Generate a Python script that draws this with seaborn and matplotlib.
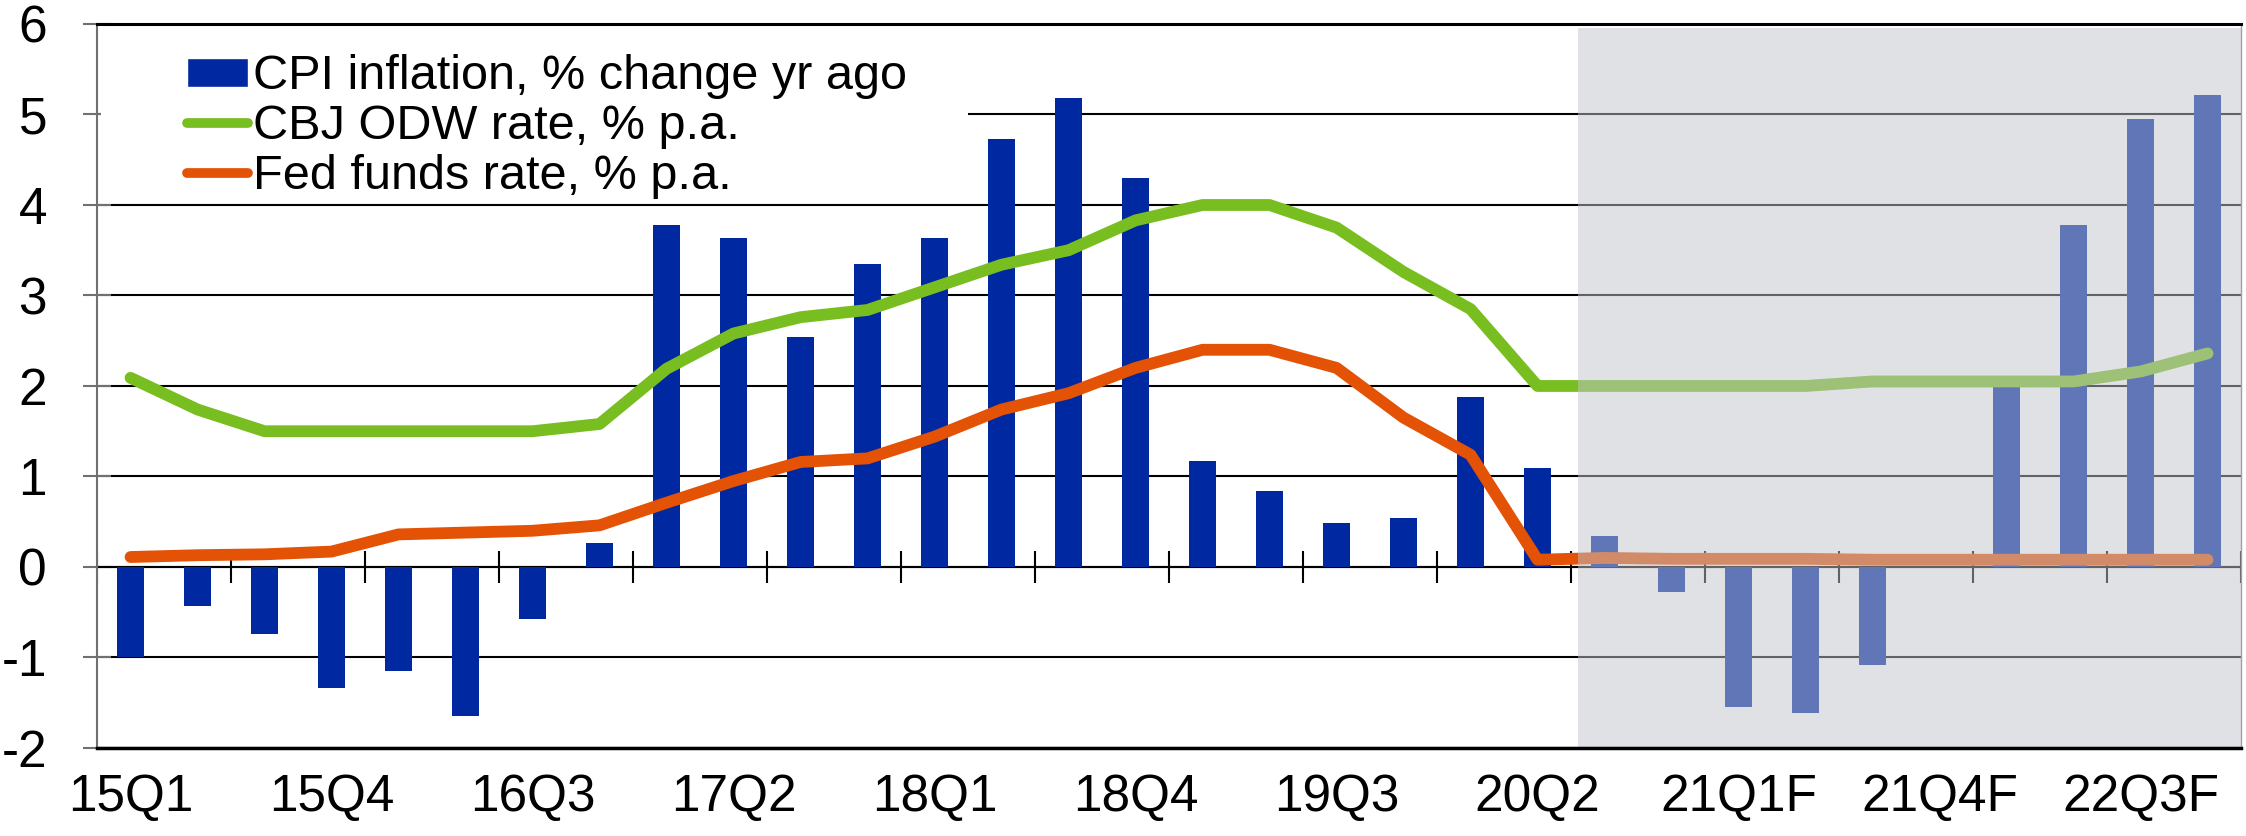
import matplotlib
matplotlib.use('Agg')
import matplotlib.pyplot as plt
import seaborn as sns
import numpy as np
import pandas as pd
from matplotlib.patches import Patch, Rectangle
from matplotlib.lines import Line2D

# Datos
quarters = ['15Q1', '15Q2', '15Q3', '15Q4', '16Q1', '16Q2', '16Q3', '16Q4',
            '17Q1', '17Q2', '17Q3', '17Q4', '18Q1', '18Q2', '18Q3', '18Q4',
            '19Q1', '19Q2', '19Q3', '19Q4', '20Q1', '20Q2', '20Q3F', '20Q4F',
            '21Q1F', '21Q2F', '21Q3F', '21Q4F', '22Q1F', '22Q2F', '22Q3F', '22Q4F']
cpi = [-1.00, -0.43, -0.74, -1.34, -1.15, -1.65, -0.57, 0.27,
       3.78, 3.63, 2.54, 3.35, 3.63, 4.73, 5.18, 4.30,
       1.17, 0.84, 0.49, 0.54, 1.88, 1.09, 0.34, -0.28,
       -1.55, -1.61, -1.08, 0.00, 2.11, 3.78, 4.95, 5.21]
cbj_odw = [2.09, 1.74, 1.50, 1.50, 1.50, 1.50, 1.50, 1.58,
           2.19, 2.58, 2.76, 2.84, 3.09, 3.34, 3.50, 3.83,
           4.00, 4.00, 3.75, 3.26, 2.85, 2.00, 2.00, 2.00,
           2.00, 2.00, 2.05, 2.05, 2.05, 2.05, 2.16, 2.36]
fed_funds = [0.11, 0.13, 0.14, 0.17, 0.36, 0.38, 0.40, 0.46,
             0.71, 0.95, 1.16, 1.20, 1.44, 1.74, 1.92, 2.20,
             2.40, 2.40, 2.20, 1.65, 1.24, 0.08, 0.10, 0.09,
             0.09, 0.09, 0.08, 0.08, 0.08, 0.08, 0.08, 0.08]
labels = ['CPI inflation, % change yr ago', 'CBJ ODW rate, % p.a.', 'Fed funds rate, % p.a.']

BLUE = '#0028A0'
GREEN = '#78BE21'
ORANGE = '#E35205'
SHADE = '#C2C4CC'

sns.set_style('white')
plt.rcParams['font.family'] = ['Liberation Sans', 'DejaVu Sans']
plt.rcParams['axes.unicode_minus'] = False
plt.rcParams['text.color'] = 'black'

df = pd.DataFrame({'quarter': quarters, 'cpi': cpi, 'cbj': cbj_odw, 'fed': fed_funds})
df['pos'] = np.arange(len(df))
n = len(df)
first_fc = quarters.index('20Q3F')

fig = plt.figure(figsize=(22.46, 8.36), dpi=100)
ax = fig.add_axes([0.0432, 0.1053, 0.9546, 0.8660])

sns.barplot(data=df, x='quarter', y='cpi', order=quarters, color=BLUE, width=0.4,
            saturation=1, linewidth=0, ax=ax, zorder=1.5)
sns.lineplot(data=df, x='pos', y='cbj', color=GREEN, lw=8.5, solid_capstyle='round',
             ax=ax, zorder=2)
sns.lineplot(data=df, x='pos', y='fed', color=ORANGE, lw=8.5, solid_capstyle='round',
             ax=ax, zorder=2.1)

# eje cero con marcas cada 2 trimestres
ax.axhline(0, color='black', lw=1.5, zorder=1.2)
ax.vlines(np.arange(-0.5, n, 2), -0.18, 0.18, color='black', lw=1.5, zorder=1.6)

# zona de pronóstico
ax.axvspan(first_fc - 0.4, n - 0.5, ymin=0, ymax=0.994, color=SHADE, alpha=0.5,
           lw=0, zorder=2.3)

ax.set_xlim(-0.5, n - 0.5)
ax.set_ylim(-2, 6)
ax.set_yticks(range(-2, 7))
ax.yaxis.grid(True, color='black', lw=1.5)
ax.xaxis.grid(False)
ax.set_axisbelow(True)
ax.set_xticks(df['pos'][::3])
ax.set_xticklabels(quarters[::3])
ax.set_xlabel('')
ax.set_ylabel('')
ax.tick_params(axis='x', length=0, pad=18, labelsize=37, labelcolor='black')
ax.tick_params(axis='y', left=True, direction='inout', length=20, width=1.5,
               color='#707070', pad=26, labelsize=37, labelcolor='black')

ax.spines['top'].set(color='black', lw=2.2, zorder=3)
ax.spines['bottom'].set(color='black', lw=2.5, zorder=3)
ax.spines['left'].set(color='#707070', lw=1.5, zorder=3)
ax.spines['right'].set(color='#A0A0A0', lw=1, zorder=3)

# fondo blanco de la leyenda
ax.add_patch(Rectangle((0.002, 0.80), 0.404, 0.19, transform=ax.transAxes,
                       facecolor='white', edgecolor='none', zorder=2.6))
handles = [Patch(facecolor=BLUE),
           Line2D([], [], color=GREEN, lw=7, solid_capstyle='round'),
           Line2D([], [], color=ORANGE, lw=7, solid_capstyle='round')]
ax.legend(handles, labels, loc='upper left', bbox_to_anchor=(0.042, 0.958),
          frameon=False, fontsize=35, handlelength=1.25, handleheight=0.55,
          handletextpad=0.1, labelspacing=0.1, borderpad=0, borderaxespad=0,
          labelcolor='black')

plt.savefig('out.png', dpi=100)
plt.close()
